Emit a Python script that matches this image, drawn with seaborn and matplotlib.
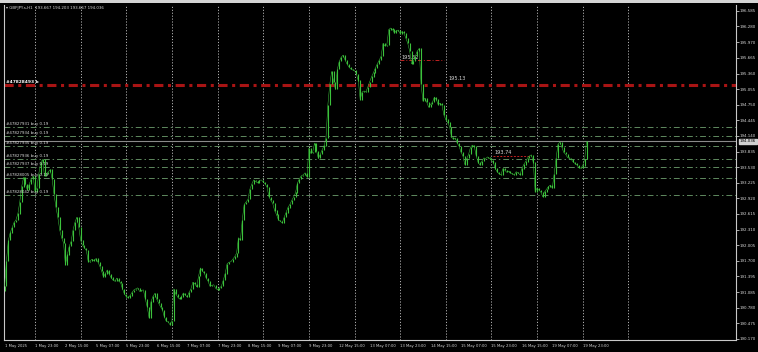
import numpy as np
import pandas as pd
import seaborn as sns
import matplotlib
matplotlib.use("Agg")
import matplotlib.pyplot as plt
from matplotlib.transforms import ScaledTranslation
from matplotlib.patches import Rectangle

# ---------------- data ----------------
closes = [
    191.20, 191.70, 192.10, 192.25, 192.35, 192.45, 192.50, 192.62, 192.85, 193.15,
    193.33, 193.20, 193.08, 193.20, 193.30, 193.36, 193.05, 193.12, 193.40, 193.62,
    193.68, 193.35, 193.40, 193.44, 193.48, 193.30, 193.00, 192.75, 192.55, 192.30,
    192.15, 192.05, 191.62, 191.82, 191.98, 192.08, 192.30, 192.45, 192.55, 192.36,
    192.10, 192.00, 191.95, 191.90, 191.68, 191.70, 191.73, 191.70, 191.74, 191.68,
    191.60, 191.50, 191.38, 191.45, 191.52, 191.44, 191.37, 191.32, 191.30, 191.36,
    191.30, 191.27, 191.15, 191.05, 191.00, 190.98, 191.02, 191.08, 191.13, 191.15,
    191.17, 191.10, 191.12, 191.13, 190.95, 190.80, 190.58, 190.90, 191.00, 191.06,
    190.95, 190.87, 190.80, 190.74, 190.60, 190.52, 190.50, 190.45, 190.52, 191.15,
    191.05, 190.99, 190.95, 191.00, 191.07, 191.03, 190.99, 191.08, 191.15, 191.28,
    191.25, 191.19, 191.40, 191.56, 191.50, 191.46, 191.36, 191.30, 191.20, 191.22,
    191.23, 191.16, 191.13, 191.17, 191.20, 191.32, 191.45, 191.64, 191.67, 191.68,
    191.73, 191.78, 191.85, 192.15, 192.10, 192.50, 192.80, 192.85, 192.90, 193.10,
    193.20, 193.28, 193.25, 193.22, 193.27, 193.28, 193.24, 193.20, 193.14, 192.95,
    192.88, 192.82, 192.68, 192.60, 192.50, 192.47, 192.44, 192.55, 192.64, 192.74,
    192.80, 192.88, 192.95, 193.03, 193.22, 193.30, 193.36, 193.38, 193.42, 193.34,
    193.90, 193.80, 193.82, 194.00, 193.85, 193.70, 193.78, 193.87, 193.95, 194.10,
    194.75, 195.15, 195.40, 195.20, 195.05, 195.45, 195.60, 195.68, 195.72, 195.63,
    195.55, 195.49, 195.45, 195.43, 195.42, 195.35, 195.22, 194.85, 195.00, 195.02,
    195.00, 195.10, 195.20, 195.30, 195.38, 195.47, 195.55, 195.62, 195.70, 195.95,
    195.90, 195.92, 196.22, 196.25, 196.22, 196.15, 196.20, 196.21, 196.14, 196.18,
    196.15, 196.05, 195.95, 195.80, 195.55, 195.60, 195.70, 195.80, 195.85, 195.15,
    194.82, 194.88, 194.80, 194.70, 194.76, 194.80, 194.90, 194.85, 194.75, 194.78,
    194.74, 194.55, 194.46, 194.40, 194.32, 194.12, 194.08, 194.10, 194.00, 193.94,
    193.82, 193.75, 193.58, 193.70, 193.78, 193.92, 193.96, 193.93, 193.75, 193.62,
    193.57, 193.65, 193.71, 193.70, 193.73, 193.70, 193.66, 193.62, 193.50, 193.44,
    193.40, 193.38, 193.50, 193.47, 193.43, 193.45, 193.42, 193.40, 193.38, 193.44,
    193.42, 193.38, 193.50, 193.58, 193.64, 193.71, 193.75, 193.77, 193.62, 193.05,
    193.12, 193.08, 193.04, 192.95, 193.05, 193.10, 193.15, 193.18, 193.12, 193.40,
    193.70, 193.98, 194.02, 193.92, 193.82, 193.78, 193.72, 193.70, 193.68, 193.63,
    193.60, 193.57, 193.52, 193.51, 193.56, 193.68, 194.036,
]
first_open = 191.10

x_labels = ["1 May 2025", "1 May 23:00", "2 May 15:00", "5 May 07:00", "5 May 23:00",
            "6 May 15:00", "7 May 07:00", "7 May 23:00", "8 May 15:00", "9 May 07:00",
            "9 May 23:00", "12 May 15:00", "13 May 07:00", "13 May 23:00", "14 May 15:00",
            "15 May 07:00", "15 May 23:00", "16 May 15:00", "19 May 07:00", "19 May 23:00"]
y_ticks = [196.585, 196.280, 195.970, 195.665, 195.360, 195.055, 194.750, 194.445,
           194.140, 193.835, 193.530, 193.225, 192.920, 192.615, 192.310, 192.005,
           191.700, 191.395, 191.085, 190.780, 190.475, 190.170]

order_levels = [194.32, 194.14, 193.94, 193.69, 193.53, 193.32, 192.99]
order_labels = ["#47827931 buy 0.19", "#47827934 buy 0.19", "#47827935 buy 0.19",
                "#47827936 buy 0.19", "#47827937 buy 0.19", "#47828005 buy 0.19",
                "#47828042 buy 0.19"]
main_level = 195.13
tp_levels = [195.62, 193.74]
bid = 194.036
header = "GBPJPY.s,H1  193.667 194.203 193.667 194.036"

# ---------------- frame ----------------
n = len(closes)
opens = [first_open] + closes[:-1]
df = pd.DataFrame({"bar": np.arange(n), "open": opens, "close": closes})
df["lo"] = df[["open", "close"]].min(axis=1)
df["hi"] = df[["open", "close"]].max(axis=1)

sns.set_theme(style="dark", rc={"axes.facecolor": "black", "figure.facecolor": "black"})
plt.rcParams["font.family"] = ["DejaVu Sans"]

fig = plt.figure(figsize=(7.58, 3.52), dpi=100)
ax = fig.add_axes([4 / 758, 1 - 340 / 352, 732 / 758, 335 / 352])
ax.set_facecolor("black")

GREEN = "#3cc23c"
TXT = "#d8d8d8"
FS = 2.9
FSX = 2.7

# vertical day grid
for g in range(16, 340, 24):
    ax.axvline(g, color="#b0b0b0", lw=0.7, ls=(0, (1.2, 1.8)), zorder=1)

# order lines
for lv, lab in zip(order_levels, order_labels):
    ax.axhline(lv, color="#5f8a5f", lw=0.7, ls=(0, (6, 3, 1.5, 3)), zorder=2)
    ax.text(1, lv + 0.02, lab, color=TXT, fontsize=FS, va="bottom", ha="left", zorder=6)

# bid line
ax.axhline(bid, color="#8a8a8a", lw=0.8, zorder=2)

# main red line
ax.axhline(main_level, color="#a81414", lw=2.2, ls=(0, (3, 1.5, 1, 1.5)), zorder=2)
ax.text(0.5, main_level + 0.03, "#47828493 b", color="white", fontsize=FS + 0.3,
        fontweight="bold", va="bottom", ha="left", zorder=6)
ax.text(233.5, main_level + 0.10, f"{main_level:.2f}", color=TXT, fontsize=FS + 0.7, zorder=6)

# small TP lines
ax.hlines(tp_levels[0], 208, 231, color="#c02020", lw=0.7, ls=(0, (4, 2, 1, 2)), zorder=2)
ax.text(208.5, tp_levels[0] + 0.03, f"{tp_levels[0]:.2f}", color=TXT, fontsize=FS + 0.7, zorder=3)
ax.hlines(tp_levels[1], 257, 276, color="#c02020", lw=0.7, ls=(0, (2, 1.5)), zorder=2)
ax.text(257.5, tp_levels[1] + 0.05, f"{tp_levels[1]:.2f}", color=TXT, fontsize=FS + 0.7, zorder=6)

# candles
ax.vlines(df["bar"], df["lo"], df["hi"] + 0.004, color=GREEN, lw=0.8, zorder=4)
sns.lineplot(data=df, x="bar", y="close", ax=ax, color=GREEN, lw=0.35, zorder=4)

# axes
ax.set_xlim(-0.3, 384.6)
ax.set_ylim(190.15, 196.70)
ax.set_xlabel("")
ax.set_ylabel("")
ax.yaxis.tick_right()
ax.set_yticks(y_ticks)
ax.set_yticklabels([f"{v:.3f}" for v in y_ticks], fontsize=FS, color=TXT)
ax.set_xticks(np.arange(0, 16 * len(x_labels), 16))
ax.set_xticklabels(x_labels, fontsize=FSX, color=TXT)
off = ScaledTranslation(-3 / 100, 0, fig.dpi_scale_trans)
for lab in ax.get_xticklabels():
    lab.set_ha("left")
    lab.set_transform(lab.get_transform() + off)
ax.tick_params(axis="both", colors="#c8c8c8", length=2, width=0.6, pad=0.8,
               labelcolor=TXT)
ax.grid(False)
for s in ["left", "right", "bottom"]:
    ax.spines[s].set_visible(True)
    ax.spines[s].set_color("#c8c8c8")
    ax.spines[s].set_linewidth(0.8)
ax.spines["top"].set_visible(False)

# bid price box on axis
ax.text(1.005, bid, f"{bid:.3f}", transform=ax.get_yaxis_transform(), fontsize=FS,
        color="black", va="center", ha="left",
        bbox=dict(boxstyle="square,pad=0.15", fc="#d0d0d0", ec="#d0d0d0"), zorder=7)

# header
fig.text(6 / 758, 1 - 8 / 352, "\u25be " + header, color=TXT, fontsize=FS,
         va="center", ha="left")
# top UI strip
fig.patches.append(Rectangle((0, 1 - 3 / 352), 1, 3 / 352, transform=fig.transFigure,
                             fc="#d4d4d4", ec="none"))

fig.savefig("out.png", dpi=100, facecolor="black")
